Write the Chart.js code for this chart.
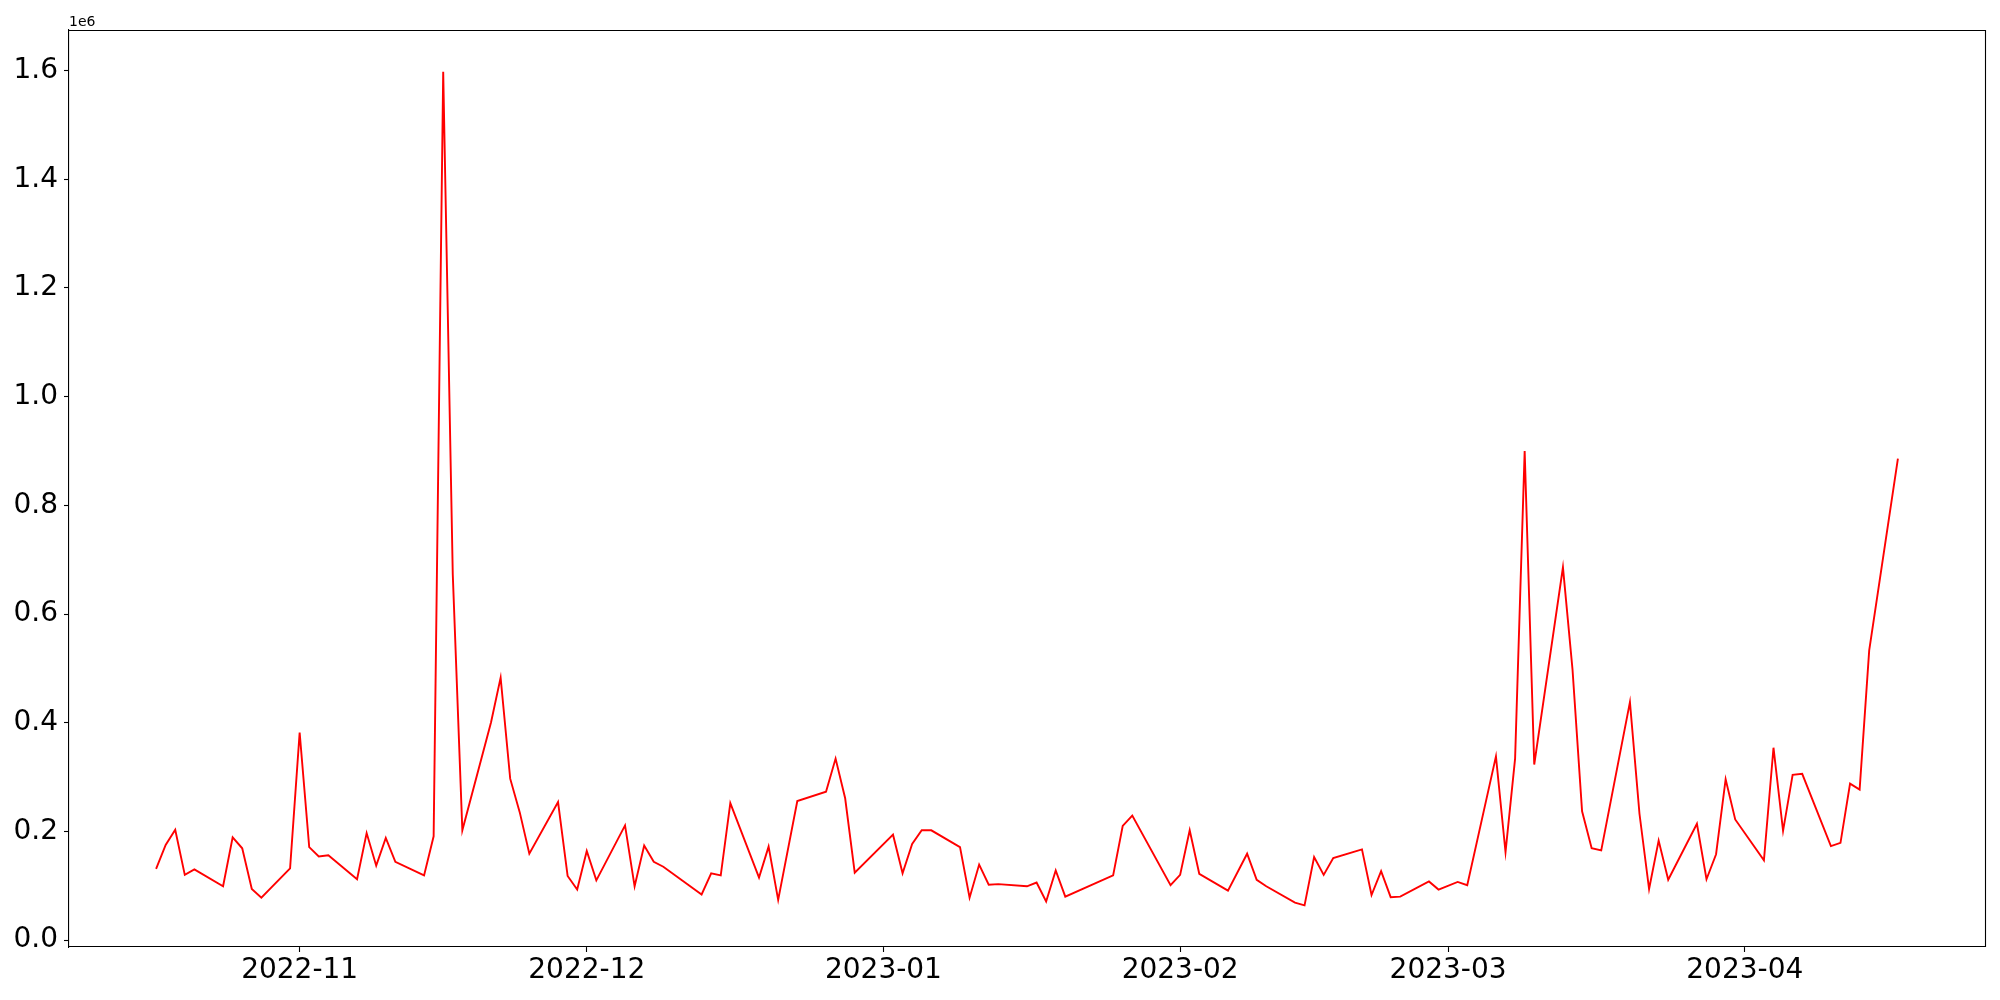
<!DOCTYPE html>
<html>
<head>
<meta charset="utf-8">
<script src="https://cdn.jsdelivr.net/npm/chart.js@4/dist/chart.umd.min.js"></script>
<style>
  html, body { margin: 0; padding: 0; background: #ffffff; }
  #wrap { width: 2000px; height: 1000px; }
</style>
</head>
<body>
<div id="wrap"><canvas id="c" width="2000" height="1000"></canvas></div>
<script>
// ---- data ----
const dates = [
  '2022-10-17','2022-10-18','2022-10-19','2022-10-20','2022-10-21',
  '2022-10-24','2022-10-25','2022-10-26','2022-10-27','2022-10-28',
  '2022-10-31','2022-11-01','2022-11-02','2022-11-03','2022-11-04',
  '2022-11-07','2022-11-08','2022-11-09','2022-11-10','2022-11-11',
  '2022-11-14','2022-11-15','2022-11-16','2022-11-17','2022-11-18',
  '2022-11-21','2022-11-22','2022-11-23','2022-11-24','2022-11-25',
  '2022-11-28','2022-11-29','2022-11-30','2022-12-01','2022-12-02',
  '2022-12-05','2022-12-06','2022-12-07','2022-12-08','2022-12-09',
  '2022-12-13','2022-12-14','2022-12-15','2022-12-16',
  '2022-12-19','2022-12-20','2022-12-21','2022-12-23',
  '2022-12-26','2022-12-27','2022-12-28','2022-12-29',
  '2023-01-02','2023-01-03','2023-01-04','2023-01-05','2023-01-06',
  '2023-01-09','2023-01-10','2023-01-11','2023-01-12','2023-01-13',
  '2023-01-16','2023-01-17','2023-01-18','2023-01-19','2023-01-20',
  '2023-01-25','2023-01-26','2023-01-27',
  '2023-01-31','2023-02-01','2023-02-02','2023-02-03',
  '2023-02-06','2023-02-08','2023-02-09','2023-02-10',
  '2023-02-13','2023-02-14','2023-02-15','2023-02-16','2023-02-17',
  '2023-02-20','2023-02-21','2023-02-22','2023-02-23','2023-02-24',
  '2023-02-27','2023-02-28','2023-03-02','2023-03-03',
  '2023-03-06','2023-03-07','2023-03-08','2023-03-09','2023-03-10',
  '2023-03-13','2023-03-14','2023-03-15','2023-03-16','2023-03-17',
  '2023-03-20','2023-03-21','2023-03-22','2023-03-23','2023-03-24',
  '2023-03-27','2023-03-28','2023-03-29','2023-03-30','2023-03-31',
  '2023-04-03','2023-04-04','2023-04-05','2023-04-06','2023-04-07',
  '2023-04-10','2023-04-11','2023-04-12','2023-04-13','2023-04-14',
  '2023-04-17'
];
const values = [
  131000,175000,203000,120000,130000,
  99000,189000,169000,94000,78000,
  132000,382000,171000,154000,156000,
  112000,197000,137000,188000,144000,
  119000,191000,1598000,673000,202000,
  401000,483000,297000,235000,159000,
  254000,118000,93000,164000,110000,
  211000,99000,174000,144000,135000,
  84000,123000,119000,252000,
  115000,172000,74000,256000,
  273000,334000,261000,124000,
  194000,123000,177000,202000,202000,
  171000,78000,139000,102000,103000,
  99000,106000,71000,128000,80000,
  119000,210000,229000,
  101000,120000,202000,122000,
  91000,159000,111000,99000,
  69000,64000,153000,120000,151000,
  167000,83000,127000,79000,80000,
  108000,93000,107000,101000,
  338000,162000,334000,900000,323000,
  686000,498000,237000,169000,165000,
  438000,232000,94000,183000,111000,
  214000,112000,158000,296000,222000,
  147000,354000,201000,304000,306000,
  173000,179000,288000,277000,533000,
  886000
];
const monthTicks = ['2022-11-01','2022-12-01','2023-01-01','2023-02-01','2023-03-01','2023-04-01'];
const yTickValues = [0, 200000, 400000, 600000, 800000, 1000000, 1200000, 1400000, 1600000];
const yOffsetLabel = '1e6';

// ---- helpers ----
const DAY = 86400000;
const toDay = s => Date.UTC(+s.slice(0, 4), +s.slice(5, 7) - 1, +s.slice(8, 10)) / DAY;
const fmtMonth = v => {
  const d = new Date(Math.round(v) * DAY);
  return d.getUTCFullYear() + '-' + String(d.getUTCMonth() + 1).padStart(2, '0');
};
const xs = dates.map(toDay);
const points = xs.map((x, i) => ({ x: x, y: values[i] }));
const xMinD = Math.min(...xs), xMaxD = Math.max(...xs);
const xPad = 0.05 * (xMaxD - xMinD);
const yMinD = Math.min(...values), yMaxD = Math.max(...values);
const yPad = 0.05 * (yMaxD - yMinD);

const FONT = 'DejaVu Sans';

const framePlugin = {
  id: 'frame',
  afterDraw(chart) {
    const { ctx, chartArea: a } = chart;
    ctx.save();
    ctx.strokeStyle = '#000';
    ctx.lineWidth = 1.1;
    ctx.beginPath();
    ctx.moveTo(a.left, a.top + 0.5);
    ctx.lineTo(a.right + 0.5, a.top + 0.5);
    ctx.lineTo(a.right + 0.5, a.bottom);
    ctx.stroke();
    ctx.fillStyle = '#000';
    ctx.font = '14px "' + FONT + '"';
    ctx.textAlign = 'left';
    ctx.textBaseline = 'alphabetic';
    ctx.fillText(yOffsetLabel, a.left, a.top - 4);
    ctx.restore();
  }
};

new Chart(document.getElementById('c').getContext('2d'), {
  type: 'line',
  data: {
    datasets: [{
      data: points,
      borderColor: '#ff0000',
      borderWidth: 1.9,
      pointRadius: 0,
      tension: 0,
      fill: false
    }]
  },
  options: {
    responsive: false,
    animation: false,
    devicePixelRatio: 1,
    layout: { padding: { top: 30, right: 15, left: 0, bottom: 0 } },
    plugins: { legend: { display: false }, tooltip: { enabled: false } },
    scales: {
      x: {
        type: 'linear',
        min: xMinD - xPad,
        max: xMaxD + xPad,
        afterBuildTicks: s => { s.ticks = monthTicks.map(m => ({ value: toDay(m) })); },
        afterFit: s => { s.height = 53; },
        grid: { display: true, drawOnChartArea: false, drawTicks: true, tickLength: 5, tickColor: '#000', tickWidth: 1.1 },
        border: { display: true, color: '#000', width: 1.1 },
        ticks: {
          color: '#000', font: { family: FONT, size: 28 }, maxRotation: 0, minRotation: 0,
          autoSkip: false, padding: 2, callback: v => fmtMonth(v)
        }
      },
      y: {
        type: 'linear',
        min: yMinD - yPad,
        max: yMaxD + yPad,
        afterBuildTicks: s => { s.ticks = yTickValues.map(v => ({ value: v })); },
        afterFit: s => { s.width = 69; },
        grid: { display: true, drawOnChartArea: false, drawTicks: true, tickLength: 5, tickColor: '#000', tickWidth: 1.1 },
        border: { display: true, color: '#000', width: 1.1 },
        ticks: {
          color: '#000', font: { family: FONT, size: 28 }, padding: 6,
          autoSkip: false, callback: v => (v / 1e6).toFixed(1)
        }
      }
    }
  },
  plugins: [framePlugin]
});
</script>
</body>
</html>
